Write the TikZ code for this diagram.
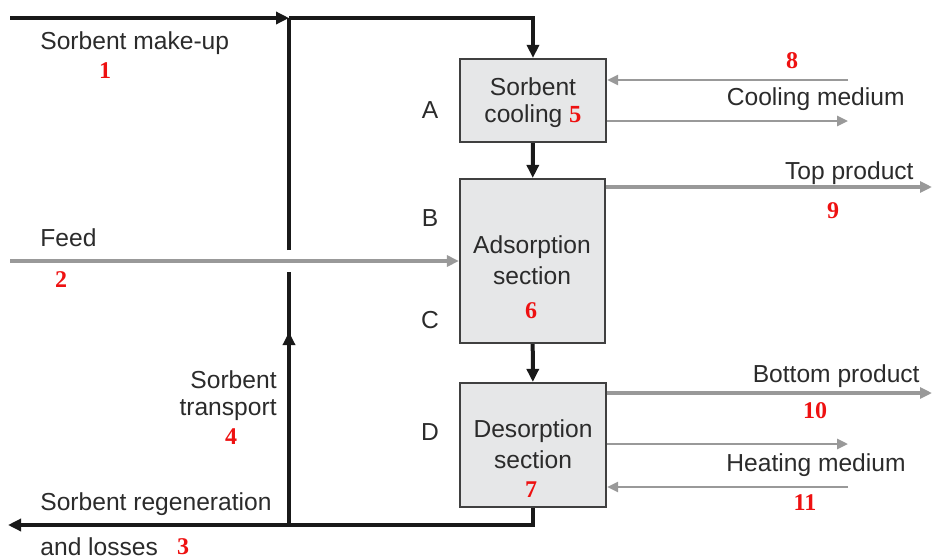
\documentclass[tikz,border=0pt]{standalone}
\usepackage{fontspec}
\setmainfont{Liberation Sans}
\newfontfamily\numfont{Liberation Serif}
\usetikzlibrary{arrows.meta}
\definecolor{txt}{HTML}{2B2B2B}
\definecolor{flow}{HTML}{999999}
\definecolor{boxfill}{HTML}{E6E7E8}
\definecolor{boxline}{HTML}{404040}
\definecolor{numred}{HTML}{EE1111}
\tikzset{
  unitbox/.style={draw=boxline, line width=1.1pt, fill=boxfill, inner sep=0pt},
  lbl/.style={text=txt, font=\fontsize{12.3}{14}\selectfont, inner sep=0pt},
  num/.style={text=numred, font=\numfont\bfseries\fontsize{12}{13}\selectfont, inner sep=0pt},
  solidflow/.style={draw=black!90, line width=2pt},
  solidarrow/.style={solidflow, -{Triangle[length=6.5pt,width=6pt]}},
  gasarrow/.style={draw=flow, line width=1.3pt, -{Triangle[length=5.5pt,width=5pt]}},
  prodarrow/.style={draw=flow, line width=2.1pt, -{Triangle[length=6pt,width=5.5pt]}},
}
\begin{document}
\begin{tikzpicture}[x=0.5pt,y=-0.5pt]
\useasboundingbox (0,0) rectangle (932,558);
% boxes
\node[unitbox, minimum width=73pt, minimum height=41.5pt] (A) at (533,100.5) {};
\node[unitbox, minimum width=72.5pt, minimum height=82pt] (B) at (532.5,261) {};
\node[unitbox, minimum width=73pt, minimum height=62pt] (D) at (533,445) {};
% box texts
\node[lbl] (a1) at (533,87) {Sorbent};
\node[lbl] (a2) at (533,116) {cooling \textcolor{numred}{\numfont\bfseries 5}};
\node[lbl] (b1) at (532,247) {Adsorption};
\node[lbl] (b2) at (532,276) {section};
\node[num] (n6) at (531,311) {6};
\node[lbl] (d1) at (533,431) {Desorption};
\node[lbl] (d2) at (533,460) {section};
\node[num] (n7) at (531,490) {7};
% zone letters
\node[lbl] (zA) at (430,110) {A};
\node[lbl] (zB) at (430,218) {B};
\node[lbl] (zC) at (430,320) {C};
\node[lbl] (zD) at (430,432) {D};
% coordinates
\coordinate (mk) at (10,18);
\coordinate (j1) at (289,18);
\coordinate (tc) at (533,18);
\coordinate (bc) at (533,525);
\coordinate (j2) at (289,525);
\coordinate (out3) at (8,525);
\coordinate (g1) at (289,272);
\coordinate (g2) at (289,250);
\coordinate (mid) at (289,332);
\coordinate (feed) at (10,261);
\coordinate (cin) at (848,80);
\coordinate (cout) at (848,121);
\coordinate (tp) at (932,187);
\coordinate (bp) at (932,393);
\coordinate (hout) at (848,444);
\coordinate (hin) at (848,487);
% solid (sorbent) flows
\draw[solidarrow] (mk) -- (j1);
\draw[solidarrow] (j1) -- (tc) -- (A.north);
\draw[solidarrow] (A) -- (B);
\draw[solidarrow] (B) -- (D);
\draw[solidarrow] (D.south) -- (bc) -- (out3);
\draw[solidflow] (j2) -- (g1);
\draw[solidarrow] (j2) -- (mid);
\draw[solidflow] (g2) -- (j1);
% fluid flows
\draw[prodarrow, line width=1.8pt] (feed) -- (B.west);
\draw[gasarrow] (cin) -- (cin -| A.east);
\draw[gasarrow] (cout -| A.east) -- (cout);
\draw[prodarrow] (tp -| B.east) -- (tp);
\draw[prodarrow] (bp -| D.east) -- (bp);
\draw[gasarrow] (hout -| D.east) -- (hout);
\draw[gasarrow] (hin) -- (hin -| D.east);
% stream labels
\node[lbl, anchor=west] (l1) at (40,43) {Sorbent make-up};
\node[num] (n1) at (105,71) {1};
\node[lbl, anchor=west] (l2) at (40,238) {Feed};
\node[num] (n2) at (61,280) {2};
\node[lbl, anchor=east] (l4a) at (277,380) {Sorbent};
\node[lbl, anchor=east] (l4b) at (277,410) {transport};
\node[num] (n4) at (231,437) {4};
\node[lbl, anchor=west] (l3a) at (40,504) {Sorbent regeneration};
\node[lbl, anchor=west] (l3b) at (40,547) {and losses};
\node[num] (n3) at (183,547) {3};
\node[num] (n8) at (792,61) {8};
\node[lbl, anchor=east] (l8) at (905,99) {Cooling medium};
\node[lbl, anchor=east] (l9) at (914,173) {Top product};
\node[num] (n9) at (833,211) {9};
\node[lbl, anchor=east] (l10) at (920,376) {Bottom product};
\node[num] (n10) at (815,411) {10};
\node[lbl, anchor=east] (l11) at (906,465) {Heating medium};
\node[num] (n11) at (805,503) {11};
\end{tikzpicture}
\end{document}
